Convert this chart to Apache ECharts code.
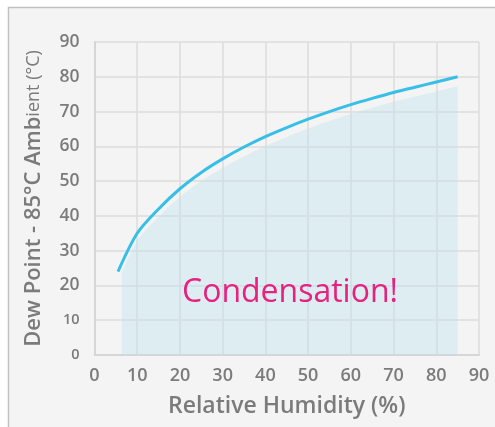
<!DOCTYPE html>
<html>
<head>
<meta charset="utf-8">
<script src="https://cdn.jsdelivr.net/npm/echarts@6/dist/echarts.min.js"></script>
<style>
  html, body { margin: 0; padding: 0; background: #fff; }
  #chart { width: 495px; height: 427px; }
</style>
</head>
<body>
<div id="chart"></div>
<script>
// dew point line (relative humidity %, dew point °C)
const dewLine = [
  [5.5, 24], [10, 35], [15, 42], [20, 47.8], [25, 52.5], [30, 56.4],
  [35, 59.8], [40, 62.8], [45, 65.4], [50, 67.8], [55, 70], [60, 72],
  [65, 73.8], [70, 75.5], [75, 77], [80, 78.5], [85, 80]
]
// condensation area, sits a little under the line
const condArea = [
  [6.4, 23.6], [10, 32.8], [15, 39.7], [20, 45.4], [25, 50], [30, 53.8],
  [35, 57.1], [40, 60.1], [45, 62.7], [50, 65.1], [55, 67.3], [60, 69.3],
  [65, 71.1], [70, 72.8], [75, 74.3], [80, 75.8], [85, 77.3]
]
const smallTicks = [0, 10]

const myChart = echarts.init(document.getElementById('chart'))

const labelColor = '#7b7b7b'

const option = {
  animation: false,
  textStyle: { fontFamily: 'Open Sans' },
  graphic: [
    {
      type: 'rect',
      z: -10,
      shape: { x: 8.5, y: 7.5, width: 600, height: 500 },
      style: { fill: '#f3f4f3', stroke: '#c2c2c2', lineWidth: 1.5 }
    },
    {
      type: 'text',
      z: 100,
      x: 290,
      y: 293,
      style: {
        text: 'Condensation!',
        fill: '#e6217f',
        font: '400 32px "Open Sans"',
        textAlign: 'center',
        textVerticalAlign: 'middle'
      }
    }
  ],
  grid: { left: 94.5, right: 16, top: 42, bottom: 72 },
  xAxis: {
    type: 'value',
    min: 0,
    max: 90,
    interval: 10,
    name: 'Relative Humidity (%)',
    nameLocation: 'middle',
    nameGap: 40,
    nameTextStyle: { color: labelColor, fontSize: 23, fontWeight: 600, fontFamily: 'Open Sans' },
    axisLine: { lineStyle: { color: '#d6d6d6', width: 2 } },
    axisTick: { show: false },
    axisLabel: { color: labelColor, fontSize: 18, fontWeight: 600, margin: 12 },
    splitLine: { lineStyle: { color: '#dddddd', width: 1.5 } }
  },
  yAxis: {
    type: 'value',
    min: 0,
    max: 90,
    interval: 10,
    name: '{a|Dew Point - 85°C Amb}{b|ient (°C)}',
    nameLocation: 'middle',
    nameGap: 50,
    nameRotate: 90,
    nameTextStyle: {
      color: labelColor,
      rich: {
        a: { fontSize: 22, fontWeight: 600, color: labelColor, fontFamily: 'Open Sans' },
        b: { fontSize: 18, fontWeight: 400, color: labelColor, fontFamily: 'Open Sans' }
      }
    },
    axisLine: { show: true, lineStyle: { color: '#d6d6d6', width: 2 } },
    axisTick: { show: false },
    axisLabel: {
      margin: 15,
      formatter: (v) => smallTicks.includes(v) ? '{s|' + v + '}' : '{b|' + v + '}',
      rich: {
        b: { fontSize: 17.5, fontWeight: 600, color: labelColor, fontFamily: 'Open Sans' },
        s: { fontSize: 14.5, fontWeight: 600, color: labelColor, fontFamily: 'Open Sans' }
      }
    },
    splitLine: { lineStyle: { color: '#dddddd', width: 1.5 } }
  },
  series: [
    {
      name: 'area',
      type: 'line',
      data: condArea,
      smooth: 0.4,
      symbol: 'none',
      z: 1,
      lineStyle: { width: 0 },
      areaStyle: { color: 'rgba(190,226,240,0.55)', origin: 'start' }
    },
    {
      name: 'dew',
      type: 'line',
      data: dewLine,
      smooth: 0.3,
      symbol: 'none',
      z: 3,
      lineStyle: { color: '#37bfe8', width: 3 }
    }
  ]
}

myChart.setOption(option)
</script>
</body>
</html>
